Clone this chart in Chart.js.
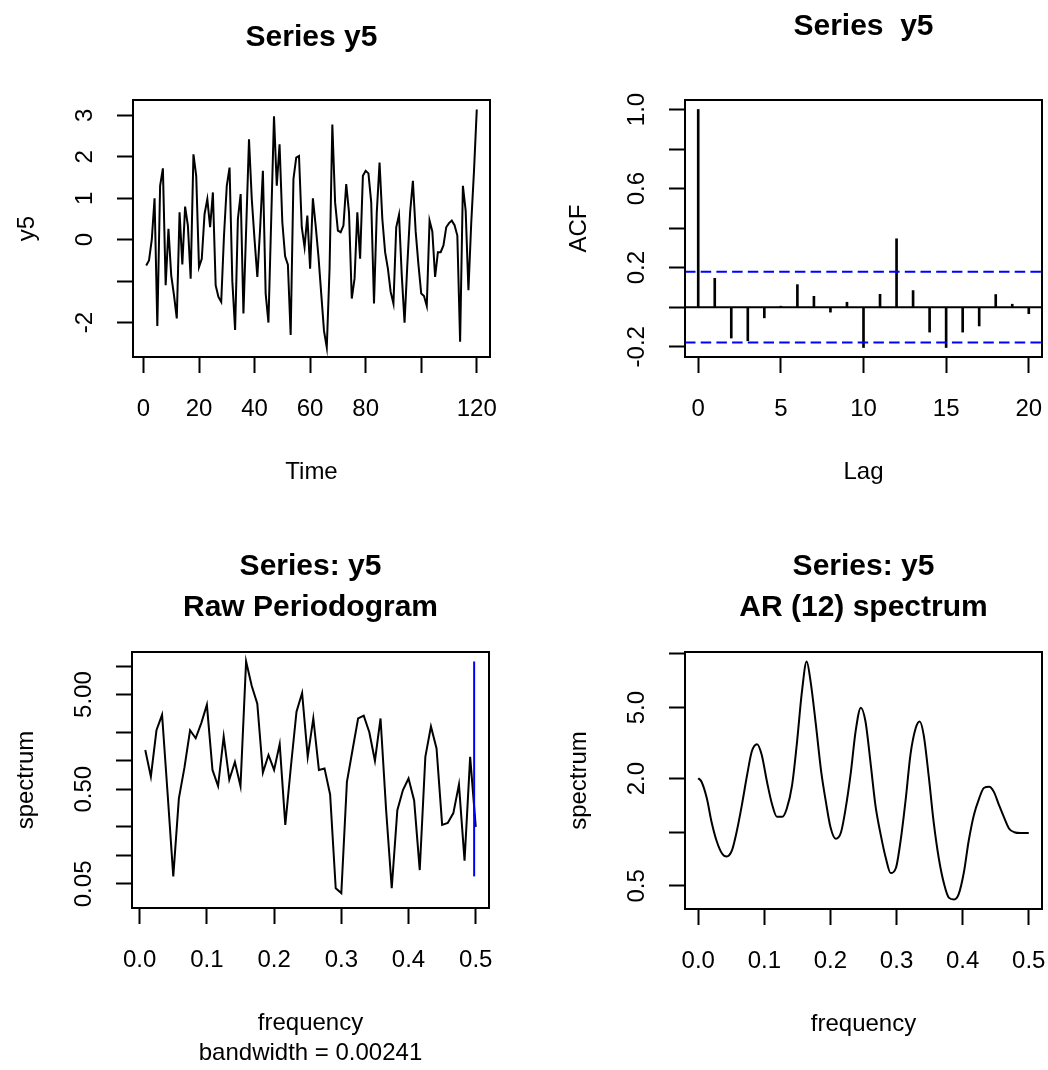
<!DOCTYPE html>
<html>
<head>
<meta charset="utf-8">
<script src="https://cdn.jsdelivr.net/npm/chart.js@4/dist/chart.umd.min.js"></script>
<style>
	html, body { margin: 0; padding: 0; background: #fff; }
	#painel { position: relative; width: 1048px; height: 1070px; }
	#painel canvas { position: absolute; left: 0; top: 0; }
</style>
</head>
<body>
<div id="painel">
	<canvas id="graficoSerie" width="1048" height="1070"></canvas>
	<canvas id="graficoAcf" width="1048" height="1070"></canvas>
	<canvas id="graficoPeriodograma" width="1048" height="1070"></canvas>
	<canvas id="graficoAr" width="1048" height="1070"></canvas>
</div>
<script>
// serie y5, t = 1..120
var serieY5 = [
	-0.62, -0.5, 0.0, 1.0, -2.08, 1.3, 1.72, -1.1, 0.26, -0.86,
	-1.34, -1.9, 0.66, -0.6, 0.8, 0.34, -0.94, 2.06, 1.54, -0.66,
	-0.46, 0.62, 0.98, 0.3, 1.14, -1.1, -1.38, -1.5, 0.1, 1.3,
	1.74, -1.0, -2.18, 0.5, 1.1, -1.78, 0.3, 2.42, 0.98, 0.0,
	-0.9, 0.26, 1.66, -1.3, -2.0, 0.5, 2.98, 1.3, 2.3, 0.42,
	-0.4, -0.6, -2.3, 1.46, 1.98, 2.02, 0.3, -0.18, 0.58, -0.7,
	1.0, 0.34, -0.4, -1.3, -2.2, -2.6, -0.7, 2.78, 0.9, 0.22,
	0.18, 0.34, 1.34, 0.66, -1.42, -0.94, 0.66, -0.46, 1.54, 1.66,
	1.6, 0.9, -1.54, 0.66, 1.86, 0.5, -0.3, -0.7, -1.26, -1.54,
	0.3, 0.6, -0.86, -2.0, -0.6, 0.66, 1.42, 0.2, -0.6, -1.3,
	-1.36, -1.6, 0.46, 0.2, -0.9, -0.3, -0.3, -0.14, 0.3, 0.4,
	0.46, 0.35, 0.1, -2.46, 1.3, 0.7, -1.22, 0.4, 1.66, 3.14
];
var serieTicksX = [0, 20, 40, 60, 80, 100, 120];
var serieRotulosX = ['0', '20', '40', '60', '80', '', '120'];
var serieTicksY = [-2, -1, 0, 1, 2, 3];
var serieRotulosY = ['-2', '', '0', '1', '2', '3'];

// funcao de autocorrelacao
var acfLags = [0, 1, 2, 3, 4, 5, 6, 7, 8, 9, 10, 11, 12, 13, 14, 15, 16, 17, 18, 19, 20];
var acfValores = [1.0, 0.146, -0.156, -0.17, -0.054, 0.005, 0.114, 0.055, -0.025, 0.025,
	-0.204, 0.065, 0.346, 0.084, -0.126, -0.204, -0.126, -0.095, 0.064, 0.015, -0.033];
var acfLimite = 0.179;
var acfTicksX = [0, 5, 10, 15, 20];
var acfRotulosX = ['0', '5', '10', '15', '20'];
var acfTicksY = [-0.2, 0, 0.2, 0.4, 0.6, 0.8, 1.0];
var acfRotulosY = ['-0.2', '', '0.2', '', '0.6', '', '1.0'];

// periodograma bruto, frequencias k/120
var pgN = 120;
var pgEspectro = [
	1.3, 0.68, 2.1, 3.06, 0.44, 0.06, 0.4, 0.85, 2.1, 1.73,
	2.5, 3.9, 0.8, 0.54, 1.8, 0.63, 0.97, 0.54, 11.2, 6.2,
	4.0, 0.75, 1.15, 0.8, 1.5, 0.21, 0.87, 3.3, 5.2, 1.1,
	2.8, 0.8, 0.83, 0.44, 0.045, 0.04, 0.6, 1.3, 2.8, 3.0,
	2.0, 1.0, 2.8, 0.3, 0.045, 0.3, 0.49, 0.65, 0.38, 0.07,
	1.1, 2.3, 1.35, 0.21, 0.22, 0.28, 0.56, 0.088, 1.1, 0.2
];
var pgTicksX = [0, 0.1, 0.2, 0.3, 0.4, 0.5];
var pgRotulosX = ['0.0', '0.1', '0.2', '0.3', '0.4', '0.5'];
var pgTicksY = [0.05, 0.1, 0.2, 0.5, 1, 2, 5, 10];
var pgRotulosY = ['0.05', '', '', '0.50', '', '', '5.00', ''];
var pgBanda = 0.00241;
var pgIntervalo = [0.06, 0.264, 11.2]; // base, centro e topo da barra azul

// espectro AR(12)
var arFreq = [0.000, 0.005, 0.013, 0.020, 0.028, 0.036, 0.043, 0.051, 0.058, 0.066,
	0.074, 0.081, 0.089, 0.096, 0.104, 0.112, 0.119, 0.127, 0.134, 0.142,
	0.149, 0.157, 0.164, 0.170, 0.178, 0.186, 0.193, 0.200, 0.208, 0.216,
	0.223, 0.231, 0.238, 0.246, 0.253, 0.261, 0.268, 0.276, 0.284, 0.291,
	0.299, 0.306, 0.314, 0.321, 0.329, 0.335, 0.341, 0.349, 0.356, 0.364,
	0.372, 0.379, 0.387, 0.394, 0.402, 0.409, 0.417, 0.425, 0.432, 0.440,
	0.447, 0.455, 0.463, 0.470, 0.478, 0.488, 0.500];
var arEspectro = [2.01, 1.92, 1.55, 1.15, 0.89, 0.76, 0.73, 0.79, 1.00, 1.42,
	2.10, 2.84, 3.12, 2.72, 1.92, 1.42, 1.22, 1.22, 1.36, 1.84,
	3.09, 6.2, 9.07, 7.0, 4.0, 2.19, 1.49, 1.07, 0.92, 1.00,
	1.36, 2.19, 3.67, 5.0, 4.18, 2.39, 1.42, 0.97, 0.71, 0.59,
	0.63, 0.89, 1.55, 2.72, 3.84, 4.18, 3.52, 2.01, 1.15, 0.71,
	0.51, 0.43, 0.42, 0.45, 0.60, 0.89, 1.25, 1.55, 1.77, 1.80,
	1.69, 1.42, 1.2, 1.05, 1.0, 0.99, 0.99];
var arTicksX = [0, 0.1, 0.2, 0.3, 0.4, 0.5];
var arRotulosX = ['0.0', '0.1', '0.2', '0.3', '0.4', '0.5'];
var arTicksY = [0.5, 1, 2, 5, 10];
var arRotulosY = ['0.5', '', '2.0', '5.0', ''];

var FONTE = '24px "Liberation Sans", Arial, sans-serif';
var FONTE_TITULO = 'bold 30px "Liberation Sans", Arial, sans-serif';
var LARGURA = 1048, ALTURA = 1070;

Chart.defaults.font.family = '"Liberation Sans", Arial, sans-serif';

function textoVertical(ctx, texto, x, y) {
	ctx.save();
	ctx.translate(x, y);
	ctx.rotate(-Math.PI / 2);
	ctx.fillText(texto, 0, 0);
	ctx.restore();
}

// caixa, titulos e rotulos no estilo do R
var rotulos = {
	id: 'rotulos',
	afterDraw: function(chart, args, op) {
		var ctx = chart.ctx;
		var area = chart.chartArea;
		var sx = chart.scales.x;
		var sy = chart.scales.y;
		var cx = (area.left + area.right) / 2;
		ctx.save();
		ctx.strokeStyle = '#000';
		ctx.lineWidth = 2;
		ctx.strokeRect(area.left, area.top, area.right - area.left, area.bottom - area.top);

		ctx.fillStyle = '#000';
		ctx.textAlign = 'center';
		ctx.textBaseline = 'middle';
		ctx.font = FONTE_TITULO;
		op.titulo.forEach(function(linha, i) {
			ctx.fillText(linha, cx, op.posTitulo + i * 41);
		});

		ctx.font = FONTE;
		op.ticksX.forEach(function(v, i) {
			ctx.fillText(op.rotulosX[i], sx.getPixelForValue(v), area.bottom + 52);
		});
		op.ticksY.forEach(function(v, i) {
			textoVertical(ctx, op.rotulosY[i], area.left - 48, sy.getPixelForValue(v));
		});
		ctx.fillText(op.eixoX, cx, area.bottom + 115);
		if (op.subtitulo) {
			ctx.fillText(op.subtitulo, cx, area.bottom + 145);
		}
		textoVertical(ctx, op.eixoY, area.left - 106, (area.top + area.bottom) / 2);
		ctx.restore();
	}
};

function escala(tipo, min, max, ticks) {
	return {
		type: tipo,
		min: min,
		max: max,
		offset: false,
		afterBuildTicks: function(s) {
			s.ticks = ticks.map(function(v) { return { value: v }; });
		},
		afterFit: function(s) {
			if (s.isHorizontal()) s.height = 0; else s.width = 0;
		},
		ticks: { display: false, autoSkip: false },
		grid: { display: true, drawOnChartArea: false, drawTicks: true, tickLength: 16,
			tickWidth: 2, tickColor: '#000', offset: false },
		border: { display: false }
	};
}

function opcoes(caixa, escalaX, escalaY, textos) {
	return {
		responsive: false,
		devicePixelRatio: 1,
		animation: false,
		events: [],
		layout: { padding: { left: caixa[0], top: caixa[1], right: LARGURA - caixa[2], bottom: ALTURA - caixa[3] } },
		scales: { x: escalaX, y: escalaY },
		plugins: { legend: { display: false }, tooltip: { enabled: false }, rotulos: textos }
	};
}

function linha(pontos, cor, largura, tracejado) {
	return {
		type: 'line',
		data: pontos,
		borderColor: cor,
		borderWidth: largura,
		borderDash: tracejado || [],
		pointRadius: 0,
		tension: 0,
		fill: false
	};
}

// serie temporal
new Chart(document.getElementById('graficoSerie').getContext('2d'), {
	type: 'line',
	data: {
		datasets: [linha(serieY5.map(function(v, i) { return { x: i + 1, y: v }; }), '#000', 2)]
	},
	options: opcoes([133, 100, 490, 357],
		escala('linear', -3.76, 124.76, serieTicksX),
		escala('linear', -2.83, 3.37, serieTicksY),
		{ titulo: ['Series y5'], posTitulo: 38, ticksX: serieTicksX, rotulosX: serieRotulosX,
			ticksY: serieTicksY, rotulosY: serieRotulosY, eixoX: 'Time', eixoY: 'y5' }),
	plugins: [rotulos]
});

// ACF
new Chart(document.getElementById('graficoAcf').getContext('2d'), {
	type: 'bar',
	data: {
		datasets: [
			linha([{ x: -0.8, y: acfLimite }, { x: 20.8, y: acfLimite }], '#0000ff', 2, [10.5, 5.2]),
			linha([{ x: -0.8, y: -acfLimite }, { x: 20.8, y: -acfLimite }], '#0000ff', 2, [10.5, 5.2]),
			linha([{ x: -0.8, y: 0 }, { x: 20.8, y: 0 }], '#000', 2),
			{
				type: 'bar',
				data: acfLags.map(function(l, i) { return { x: l, y: acfValores[i] }; }),
				backgroundColor: '#000',
				borderWidth: 0,
				barThickness: 2,
				grouped: false
			}
		]
	},
	options: opcoes([685, 100, 1042, 357],
		escala('linear', -0.8, 20.8, acfTicksX),
		escala('linear', -0.252, 1.048, acfTicksY),
		{ titulo: ['Series  y5'], posTitulo: 27, ticksX: acfTicksX, rotulosX: acfRotulosX,
			ticksY: acfTicksY, rotulosY: acfRotulosY, eixoX: 'Lag', eixoY: 'ACF' }),
	plugins: [rotulos]
});

// periodograma
var pgX = 0.5 - pgBanda;
new Chart(document.getElementById('graficoPeriodograma').getContext('2d'), {
	type: 'line',
	data: {
		datasets: [
			linha([{ x: pgX, y: pgIntervalo[0] }, { x: pgX, y: pgIntervalo[2] }], '#0000ff', 2),
			linha([{ x: pgX - pgBanda / 2, y: pgIntervalo[1] }, { x: pgX + pgBanda / 2, y: pgIntervalo[1] }], '#0000ff', 2),
			linha(pgEspectro.map(function(v, i) { return { x: (i + 1) / pgN, y: v }; }), '#000', 2)
		]
	},
	options: opcoes([132, 652, 489, 908],
		escala('linear', -0.0114, 0.5197, pgTicksX),
		escala('logarithmic', 0.0278, 14.1, pgTicksY),
		{ titulo: ['Series: y5', 'Raw Periodogram'], posTitulo: 567, ticksX: pgTicksX, rotulosX: pgRotulosX,
			ticksY: pgTicksY, rotulosY: pgRotulosY, eixoX: 'frequency', eixoY: 'spectrum',
			subtitulo: 'bandwidth = 0.00241' }),
	plugins: [rotulos]
});

// espectro AR
var arLinha = linha(arFreq.map(function(f, i) { return { x: f, y: arEspectro[i] }; }), '#000', 2);
arLinha.cubicInterpolationMode = 'monotone';
new Chart(document.getElementById('graficoAr').getContext('2d'), {
	type: 'line',
	data: { datasets: [arLinha] },
	options: opcoes([685, 652, 1042, 909],
		escala('linear', -0.02, 0.52, arTicksX),
		escala('logarithmic', 0.371, 10.26, arTicksY),
		{ titulo: ['Series: y5', 'AR (12) spectrum'], posTitulo: 567, ticksX: arTicksX, rotulosX: arRotulosX,
			ticksY: arTicksY, rotulosY: arRotulosY, eixoX: 'frequency', eixoY: 'spectrum' }),
	plugins: [rotulos]
});
</script>
</body>
</html>
